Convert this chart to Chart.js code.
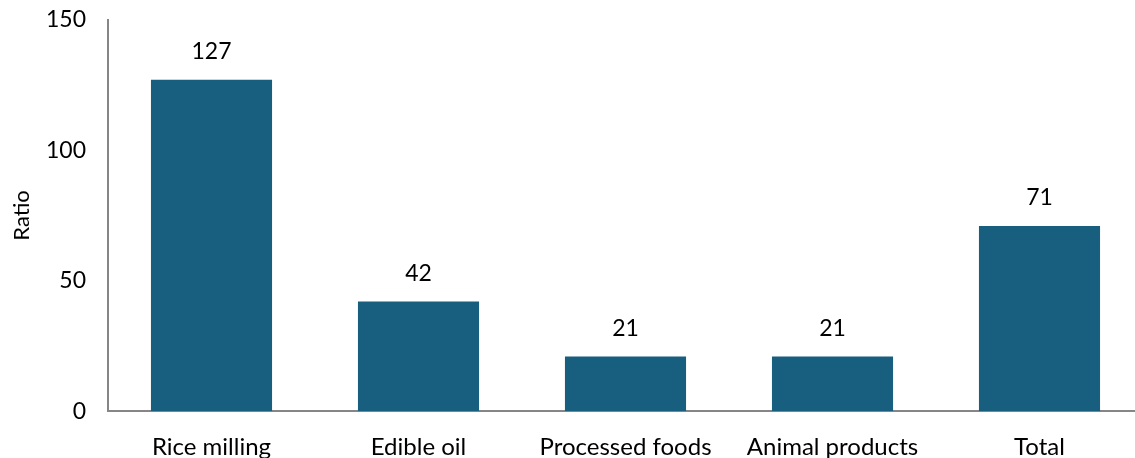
<!DOCTYPE html>
<html>
<head>
<meta charset="utf-8">
<script src="https://cdn.jsdelivr.net/npm/chart.js@4.4.1/dist/chart.umd.min.js"></script>
<style>
  html, body { margin:0; padding:0; background:#fff; overflow:hidden; height:458px; }
  #wrap { position:relative; top:-16px; width:1143px; height:500px; }
</style>
</head>
<body>
<div id="wrap"><canvas id="ch-ratio"></canvas></div>
<script>
// ── data ─────────────────────────────────────────────
const CATEGORIES = ['Rice milling', 'Edible oil', 'Processed foods', 'Animal products', 'Total'];
const RATIOS     = [127, 42, 21, 21, 71];
const Y_TICKS    = [0, 50, 100, 150];

const BAR_COLOR  = '#175e7f';
const AXIS_COLOR = '#868686';
const FONT       = 'Lato, "Open Sans", "Liberation Sans", sans-serif';

// value labels above each bar
const valueLabels = {
  id: 'valueLabels',
  afterDatasetsDraw(chart) {
    const { ctx } = chart;
    const meta = chart.getDatasetMeta(0);
    ctx.save();
    ctx.font = '23px ' + FONT;
    ctx.fillStyle = '#000';
    ctx.textAlign = 'center';
    ctx.textBaseline = 'middle';
    meta.data.forEach((bar, i) => {
      ctx.fillText(String(RATIOS[i]), bar.x, bar.y - 28);
    });
    ctx.restore();
  }
};

new Chart(document.getElementById('ch-ratio').getContext('2d'), {
  type: 'bar',
  data: {
    labels: CATEGORIES,
    datasets: [{
      data: RATIOS,
      backgroundColor: BAR_COLOR,
      borderWidth: 0,
      categoryPercentage: 1,
      barPercentage: 0.585,
    }]
  },
  options: {
    responsive: true, maintainAspectRatio: false, animation: false,
    layout: { padding: 0 },
    plugins: { legend: { display:false }, tooltip: { enabled:false } },
    scales: {
      x: {
        grid: { display:false, drawTicks:false },
        border: { color: AXIS_COLOR, width: 2 },
        ticks: { color:'#000', font:{ family: FONT, size: 24 }, padding: 22, maxRotation: 0 },
      },
      y: {
        min: 0, max: 150,
        afterBuildTicks: (s) => { s.ticks = Y_TICKS.map(v => ({ value: v })); },
        afterFit: (s) => { s.width = 108; },
        grid: { display:false, drawTicks:false },
        border: { color: AXIS_COLOR, width: 2 },
        ticks: { color:'#000', font:{ family: FONT, size: 23 }, padding: 22 },
        title: { display:true, text:'Ratio', color:'#000', font:{ family: FONT, size: 22 }, padding: { top: 9, bottom: 0 } },
      }
    }
  },
  plugins: [valueLabels]
});
</script>
</body>
</html>
